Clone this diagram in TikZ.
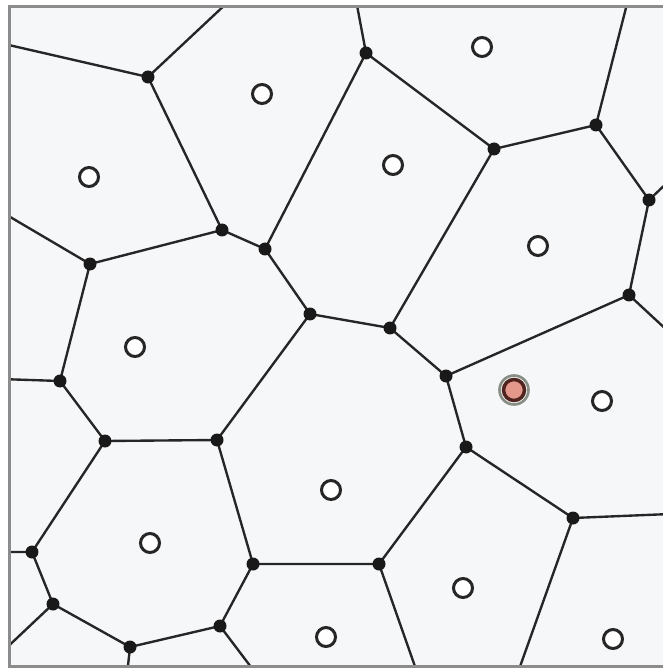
\documentclass[tikz,border=0pt]{standalone}
\definecolor{bgc}{RGB}{246,247,249}
\definecolor{framec}{RGB}{140,140,140}
\definecolor{redfill}{RGB}{228,152,140}
\definecolor{redline}{RGB}{80,36,30}
\definecolor{halo}{RGB}{135,142,132}
\begin{document}
\begin{tikzpicture}[x=0.02cm,y=-0.02cm,
  edge/.style={draw=black!85, line width=1.35pt},
  vtx/.style={circle, fill=black!90, inner sep=0pt, minimum size=0.26cm},
  site/.style={circle, draw=black!85, fill=white, line width=1.7pt, inner sep=0pt, minimum size=0.38cm},
  redsite/.style={circle, draw=redline, fill=redfill, line width=2pt, inner sep=0pt, minimum size=0.42cm},
  halosite/.style={circle, draw=halo, line width=1.5pt, inner sep=0pt, minimum size=0.58cm},
  framebox/.style={draw=framec, line width=1.7pt}]
\useasboundingbox (0,0) rectangle (662,668);
\fill[white] (0,0) rectangle (662,668);
\fill[bgc] (9.5,7) rectangle (664,666.5);
% Voronoi vertices
\coordinate (v1) at (148,77);
\coordinate (v2) at (366,53);
\coordinate (v3) at (494,149);
\coordinate (v4) at (596,125);
\coordinate (v5) at (649,200);
\coordinate (v6) at (629,295);
\coordinate (v7) at (222,230);
\coordinate (v8) at (265,249);
\coordinate (v9) at (90,264);
\coordinate (v10) at (310,314);
\coordinate (v11) at (390,328);
\coordinate (v12) at (446,376);
\coordinate (v13) at (60,381);
\coordinate (v14) at (105,441);
\coordinate (v15) at (217,440);
\coordinate (v16) at (466,447);
\coordinate (v17) at (573,518);
\coordinate (v18) at (32,552);
\coordinate (v19) at (253,564);
\coordinate (v20) at (379,564);
\coordinate (v21) at (53,604);
\coordinate (v22) at (220,626);
\coordinate (v23) at (130,647);
% border ends
\coordinate (b1) at (0,43);
\coordinate (b2) at (228,2);
\coordinate (b3) at (356,0);
\coordinate (b4) at (628,0);
\coordinate (b5) at (670,180);
\coordinate (b6) at (670,333);
\coordinate (b7) at (0,211);
\coordinate (b8) at (0,379);
\coordinate (b9) at (0,552);
\coordinate (b10) at (0,654);
\coordinate (b11) at (127,675);
\coordinate (b12) at (257,675);
\coordinate (b13) at (418,675);
\coordinate (b14) at (517,675);
\coordinate (b15) at (670,514);
\begin{scope}
\clip (9.5,7) rectangle (664,666.5);
\draw[edge] (b1) -- (v1) -- (b2);
\draw[edge] (v1) -- (v7);
\draw[edge] (b3) -- (v2) -- (v3) -- (v4) -- (b4);
\draw[edge] (v2) -- (v8);
\draw[edge] (v4) -- (v5) -- (b5);
\draw[edge] (v5) -- (v6) -- (b6);
\draw[edge] (v6) -- (v12);
\draw[edge] (v3) -- (v11);
\draw[edge] (v8) -- (v7) -- (v9) -- (b7);
\draw[edge] (v9) -- (v13) -- (b8);
\draw[edge] (v8) -- (v10) -- (v11) -- (v12) -- (v16) -- (v17) -- (b15);
\draw[edge] (v17) -- (b14);
\draw[edge] (v16) -- (v20) -- (b13);
\draw[edge] (v20) -- (v19) -- (v15) -- (v10);
\draw[edge] (v13) -- (v14) -- (v15);
\draw[edge] (v14) -- (v18) -- (b9);
\draw[edge] (v18) -- (v21) -- (b10);
\draw[edge] (v21) -- (v23) -- (b11);
\draw[edge] (v23) -- (v22) -- (b12);
\draw[edge] (v22) -- (v19);
\end{scope}
\draw[framebox] (664,7) -- (9.5,7) -- (9.5,666.5) -- (664,666.5);
% vertex dots
\foreach \i in {1,...,23} { \node[vtx] (d\i) at (v\i) {}; }
% sites
\node[site] (s1) at (262,94) {};
\node[site] (s2) at (482,47) {};
\node[site] (s3) at (89,177) {};
\node[site] (s4) at (393,165) {};
\node[site] (s5) at (538,246) {};
\node[site] (s6) at (135,347) {};
\node[site] (s7) at (602,401) {};
\node[site] (s8) at (331,490) {};
\node[site] (s9) at (150,543) {};
\node[site] (s10) at (463,588) {};
\node[site] (s11) at (326,637) {};
\node[site] (s12) at (613,639) {};
\node[halosite] (rh) at (514,390) {};
\node[redsite] (r) at (514,390) {};
\end{tikzpicture}
\end{document}
